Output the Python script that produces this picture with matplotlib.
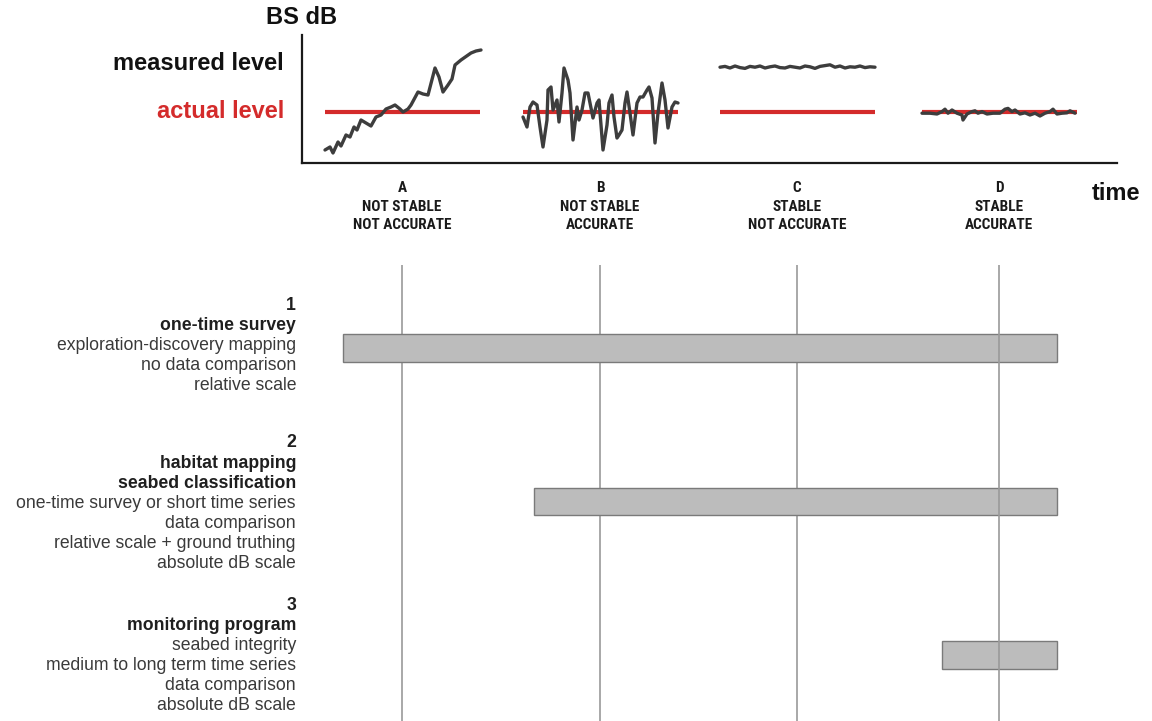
import matplotlib
matplotlib.use("Agg")
import matplotlib.pyplot as plt
from matplotlib import font_manager

# ---------------- data ----------------
# time in arbitrary units, backscatter level in dB relative to the actual level
stage_names = ["A", "B", "C", "D"]
stage_line2 = ["NOT STABLE", "NOT STABLE", "STABLE", "STABLE"]
stage_line3 = ["NOT ACCURATE", "ACCURATE", "NOT ACCURATE", "ACCURATE"]
stage_t = [102, 300, 497, 699]
actual_level = 0.0

a_t = [25, 30, 33, 38, 41, 46, 50, 54, 57, 61, 66, 71, 76, 81, 86, 91, 95, 100, 103,
       108, 111, 118, 123, 128, 135, 139, 143, 148, 152, 155, 161, 171, 176, 181]
a_db = [-9.5, -8.75, -10.25, -7.5, -8.5, -5.75, -6.25, -3.75, -4.5, -2, -2.75, -3.5,
        -1.25, -0.75, 0.75, 1.25, 1.75, 0.75, 0, 0.75, 1.75, 5, 4.5, 4.25, 11, 8.75,
        5, 6.75, 8.25, 11.75, 13, 14.75, 15.25, 15.5]

b_t = [223, 227, 230, 233, 237, 240, 243, 247, 248, 251, 253, 257, 259, 262, 264, 268,
       270, 273, 277, 279, 282, 285, 288, 290, 293, 297, 299, 303, 307, 309, 312, 314,
       317, 319, 322, 325, 327, 330, 333, 337, 340, 343, 347, 349, 352, 355, 358, 362,
       365, 368, 372, 375, 378]
b_db = [-1.25, -3.75, 1.25, 2.5, 1.75, -3.75, -8.75, -2, 5.5, 6.25, 0.5, 3, -2.5, 4.75,
        11, 8, 4.75, -7, 1.25, -2, 0.5, 4.75, 4.75, 2.25, -1.5, 2.25, 3, -9.5, -3.25,
        2.25, 4.25, -1.25, -6.5, -5.75, -4.5, 2.25, 5, -0.25, -5.75, 2.25, 3.75, 3.75,
        5.5, 6.25, 3.5, -7.75, -0.25, 7.25, 3, -4, 1.25, 2.5, 2.25]

c_t = [420, 425, 430, 435, 440, 445, 450, 455, 460, 465, 470, 475, 480, 485, 490, 495,
       500, 505, 510, 515, 520, 525, 530, 535, 540, 545, 550, 555, 560, 565, 570, 575]
c_db = [11.2, 11.4, 11.0, 11.5, 11.1, 10.9, 11.4, 11.2, 11.5, 11.0, 11.3, 11.5, 11.1,
        11.0, 11.4, 11.2, 11.0, 11.5, 11.3, 10.9, 11.4, 11.6, 11.8, 11.2, 11.5, 11.0,
        11.3, 11.2, 11.5, 11.1, 11.3, 11.2]

d_t = [622, 630, 637, 642, 645, 648, 652, 657, 662, 663, 667, 672, 675, 678, 682, 687,
       693, 700, 705, 708, 712, 715, 720, 725, 730, 735, 740, 745, 750, 753, 757, 762,
       767, 770, 775]
d_db = [-0.3, -0.3, -0.5, 0.1, 0.7, -0.3, 0.5, -0.3, -0.75, -2, -0.5, 0.1, 0.3, -0.3,
        0.1, -0.5, -0.3, -0.3, 0.7, 0.9, 0.1, 0.5, -0.5, -0.2, -0.75, -0.3, -1, -0.3,
        0.1, 0.7, -0.5, -0.3, -0.2, 0.3, -0.3]

use_num = ["1", "2", "3"]
use_bold = [["one-time survey"],
            ["habitat mapping", "seabed classification"],
            ["monitoring program"]]
use_desc = [["exploration-discovery mapping", "no data comparison", "relative scale"],
            ["one-time survey or short time series", "data comparison",
             "relative scale + ground truthing", "absolute dB scale"],
            ["seabed integrity", "medium to long term time series", "data comparison",
             "absolute dB scale"]]
use_start = [43, 234, 642]
use_end = [757, 757, 757]

# ---------------- figure ----------------
W, H = 1152, 721
fig = plt.figure(figsize=(W / 100, H / 100), dpi=100)
plt.rcParams['font.family'] = ['Liberation Sans', 'DejaVu Sans']

# look for a condensed bold face for the stage labels
label_font = None
for f in font_manager.fontManager.ttflist:
    if f.name in ('Liberation Sans Narrow', 'Roboto Condensed', 'Open Sans Condensed'):
        label_font = dict(family=f.name, fontsize=11)
        break
if label_font is None:
    for f in font_manager.fontManager.ttflist:
        if f.name == 'DejaVu Sans' and f.stretch == 'condensed' and f.weight in (700, 'bold'):
            label_font = dict(family='DejaVu Sans', stretch='condensed', fontsize=10)
            break
if label_font is None:
    label_font = dict(family='Liberation Sans', fontsize=9.5)


def fx(px):
    return px / W


def fy(py):
    return 1 - py / H


# top panel
ax = fig.add_axes([fx(302), fy(163), fx(1117) - fx(302), (163 - 35) / H])
ax.set_xlim(2, 817)
ax.set_ylim(-12.75, 19.25)
for s in ["top", "right"]:
    ax.spines[s].set_visible(False)
for s in ["left", "bottom"]:
    ax.spines[s].set_linewidth(1.6)
    ax.spines[s].set_color("#1a1a1a")
ax.set_xticks([])
ax.set_yticks([])
ax.patch.set_alpha(0)

red = "#d42b2b"
grey = "#3d3d3d"
half = 77.5
for t in stage_t:
    ax.plot([t - half, t + half], [actual_level, actual_level], color=red, lw=3.0,
            solid_capstyle="butt", zorder=2)
for tt, vv in [(a_t, a_db), (b_t, b_db), (c_t, c_db), (d_t, d_db)]:
    ax.plot(tt, vv, color=grey, lw=2.4, solid_joinstyle="round",
            solid_capstyle="round", zorder=3)

# stage labels
for t, n, l2, l3 in zip(stage_t, stage_names, stage_line2, stage_line3):
    px = 302 + (t - 2)
    for py, txt in zip([188, 207, 225], [n, l2, l3]):
        fig.text(fx(px), fy(py), txt, ha="center", va="center",
                 fontweight="bold", color="#1a1a1a", **label_font)

fig.text(fx(302), fy(18), "BS dB", ha="center", va="center", fontsize=17,
         fontweight="bold", color="#111111")
fig.text(fx(284), fy(63), "measured level", ha="right", va="center", fontsize=17,
         fontweight="bold", color="#111111")
fig.text(fx(284), fy(111), "actual level", ha="right", va="center", fontsize=17,
         fontweight="bold", color=red)
fig.text(fx(1092), fy(193), "time", ha="left", va="center", fontsize=17,
         fontweight="bold", color="#111111")

# bottom panel
bx = fig.add_axes([fx(302), 0, fx(1117) - fx(302), (721 - 265) / H])
bx.set_xlim(2, 817)
bx.set_ylim(3.43, 0.459)
bx.axis("off")
for i, t in enumerate(stage_t):
    bx.axvline(t, color="#9a9a9a", lw=1.2, zorder=3 if i == 3 else 1)
bx.barh([1, 2, 3], [e - s for s, e in zip(use_start, use_end)], left=use_start,
        height=0.182, color="#bcbcbc", edgecolor="#7a7a7a", lw=1.0, zorder=2)

# use-case text blocks
block_top = [305, 443, 605]
for top, num, bold, desc in zip(block_top, use_num, use_bold, use_desc):
    py = top
    fig.text(fx(296), fy(py), num, ha="right", va="center", fontsize=12.7,
             fontweight="bold", color="#1f1f1f")
    for line in bold:
        py += 20
        fig.text(fx(296), fy(py), line, ha="right", va="center", fontsize=12.7,
                 fontweight="bold", color="#1f1f1f")
    for line in desc:
        py += 20
        fig.text(fx(296), fy(py), line, ha="right", va="center", fontsize=12.7,
                 color="#3a3a3a")

fig.savefig("out.png", dpi=100)
